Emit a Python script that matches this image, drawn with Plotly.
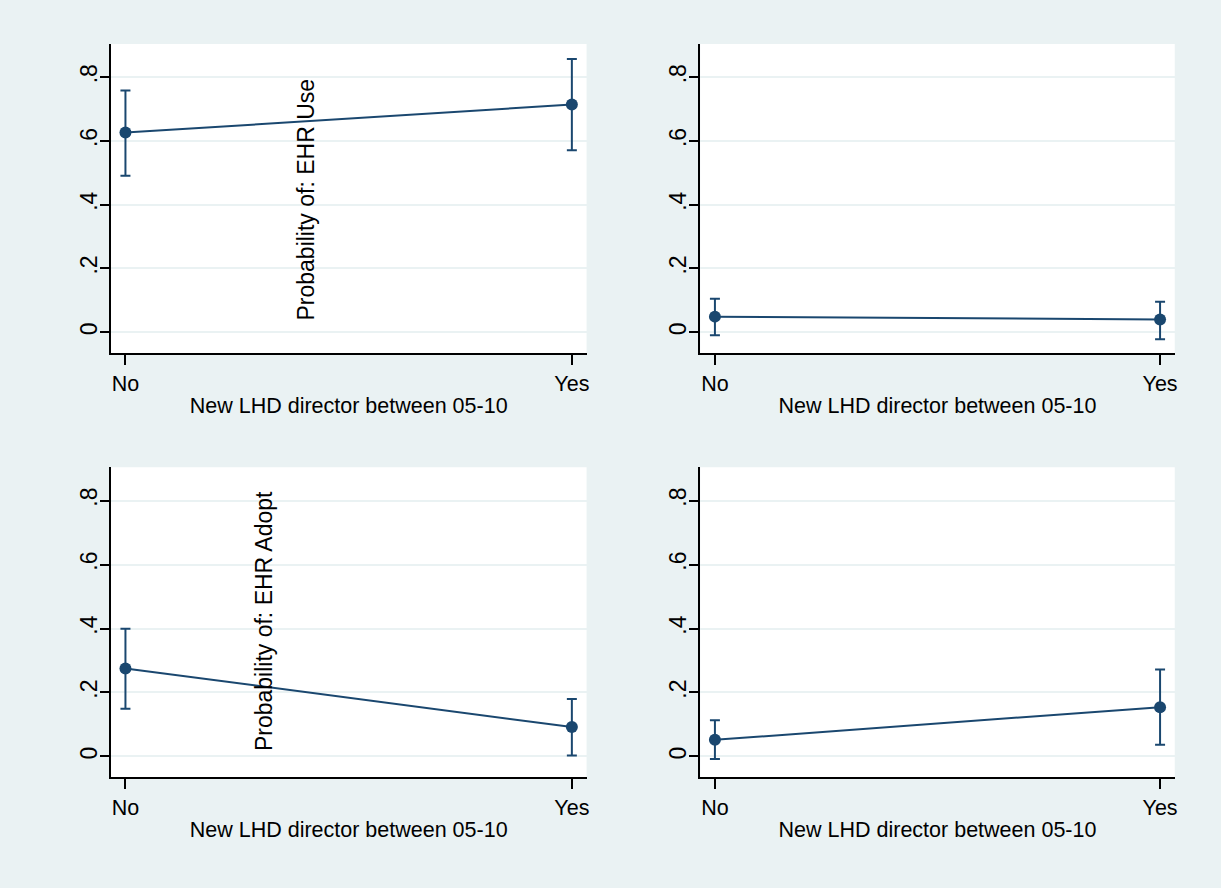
import plotly.graph_objects as go

categories = ["No", "Yes"]
x_pos = [0, 1]

# Panel values: point estimates and CI bounds
use_a_est = [0.626, 0.714]
use_a_lo = [0.491, 0.571]
use_a_hi = [0.758, 0.857]

use_b_est = [0.049, 0.040]
use_b_lo = [-0.009, -0.022]
use_b_hi = [0.105, 0.096]

adopt_a_est = [0.275, 0.092]
adopt_a_lo = [0.149, 0.003]
adopt_a_hi = [0.399, 0.180]

adopt_b_est = [0.052, 0.154]
adopt_b_lo = [-0.008, 0.037]
adopt_b_hi = [0.113, 0.272]

y_tickvals = [0, 0.2, 0.4, 0.6, 0.8]
y_ticktext = ["0", ".2", ".4", ".6", ".8"]
x_title = "New LHD director between 05-10"

NAVY = "#1A476F"
BG = "#EAF2F3"
FONT = "Liberation Sans, Arial, sans-serif"

panels = [
    (use_a_est, use_a_lo, use_a_hi, "x", "y"),
    (use_b_est, use_b_lo, use_b_hi, "x2", "y2"),
    (adopt_a_est, adopt_a_lo, adopt_a_hi, "x3", "y3"),
    (adopt_b_est, adopt_b_lo, adopt_b_hi, "x4", "y4"),
]

fig = go.Figure()
for est, lo, hi, xa, ya in panels:
    fig.add_trace(go.Scatter(
        x=x_pos, y=est, xaxis=xa, yaxis=ya, mode="lines+markers",
        line=dict(color=NAVY, width=2),
        marker=dict(color=NAVY, size=12),
        error_y=dict(type="data", symmetric=False,
                     array=[h - e for h, e in zip(hi, est)],
                     arrayminus=[e - l for e, l in zip(est, lo)],
                     color=NAVY, thickness=2, width=5),
        showlegend=False, hoverinfo="skip",
    ))

xdoms = [[0.0909, 0.4816], [0.5749, 0.9645]]
ydoms = [[0.6025, 0.9505], [0.1247, 0.4738]]

def xaxis(dom, anchor):
    return dict(domain=dom, anchor=anchor, range=[-0.033, 1.033],
                tickvals=x_pos, ticktext=categories, showgrid=False, zeroline=False,
                showline=True, linecolor="#000000", linewidth=1.5,
                ticks="outside", ticklen=10, tickwidth=1.5, tickcolor="#000000",
                tickfont=dict(family=FONT, size=21.5, color="black"),
                title=dict(text=x_title, font=dict(family=FONT, size=21.5, color="black"), standoff=3),
                fixedrange=True)

def yaxis(dom, anchor):
    return dict(domain=dom, anchor=anchor, range=[-0.065, 0.904],
                tickvals=y_tickvals, ticktext=y_ticktext, tickangle=-90,
                showgrid=True, gridcolor=BG, gridwidth=1.5, zeroline=False,
                showline=True, linecolor="#000000", linewidth=1.5,
                ticks="outside", ticklen=9, tickwidth=1.5, tickcolor="#000000",
                ticklabelstandoff=-6,
                tickfont=dict(family=FONT, size=23, color="black"),
                fixedrange=True)

fig.update_layout(
    width=1221, height=888,
    margin=dict(l=0, r=0, t=0, b=0),
    paper_bgcolor=BG, plot_bgcolor="white",
    font=dict(family=FONT, color="black"),
    xaxis=xaxis(xdoms[0], "y"), yaxis=yaxis(ydoms[0], "x"),
    xaxis2=xaxis(xdoms[1], "y2"), yaxis2=yaxis(ydoms[0], "x2"),
    xaxis3=xaxis(xdoms[0], "y3"), yaxis3=yaxis(ydoms[1], "x3"),
    xaxis4=xaxis(xdoms[1], "y4"), yaxis4=yaxis(ydoms[1], "x4"),
    annotations=[
        dict(text="Probability of: EHR Use", x=0.405, y=0.417, xref="x", yref="y",
             textangle=-90, showarrow=False, font=dict(family=FONT, size=23, color="black")),
        dict(text="Probability of: EHR Adopt", x=0.311, y=0.424, xref="x3", yref="y3",
             textangle=-90, showarrow=False, font=dict(family=FONT, size=23, color="black")),
    ],
)

fig.write_html("out.html", config={"displayModeBar": False},
               post_script="document.body.style.margin='0px';document.body.style.overflow='hidden';")
